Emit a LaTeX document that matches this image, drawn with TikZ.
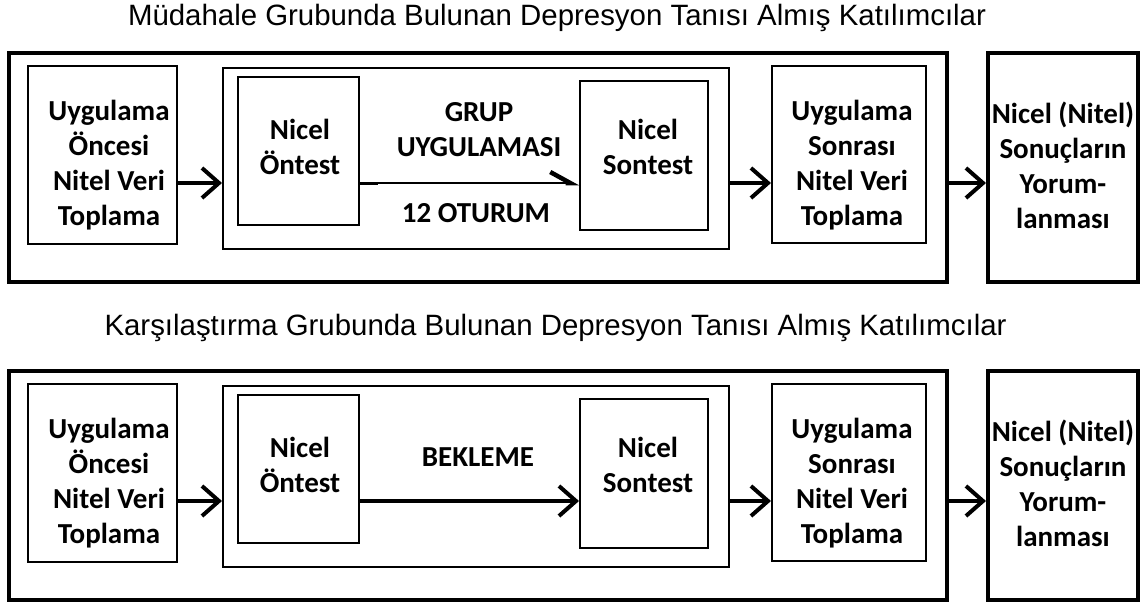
\documentclass[tikz,border=0pt]{standalone}
\usepackage{fontspec}
\setmainfont{Carlito}
\newfontfamily\titlefont{Liberation Sans}
\usetikzlibrary{arrows.meta}
\newcommand\commonparts{%
  \node[thickbox, minimum width=938pt, minimum height=229pt] (outer) at (478,167.5) {};
  \node[thickbox, minimum width=150pt, minimum height=229pt] (res) at (1063,167.5) {};
  \node[thinbox, minimum width=149pt, minimum height=178pt] (pre) at (102.5,155) {};
  \node[thinbox, minimum width=506pt, minimum height=181pt] (mid) at (476,158.5) {};
  \node[thinbox, minimum width=121pt, minimum height=148pt] (on) at (298.5,151) {};
  \node[thinbox, minimum width=128pt, minimum height=149pt] (son) at (644,155.5) {};
  \node[thinbox, minimum width=154pt, minimum height=177pt] (post) at (849,154.5) {};
  \coordinate (ay) at (0,183);
  \node[boxtext] (pretext) at (109,165) {Uygulama\\Öncesi\\Nitel Veri\\Toplama};
  \node[boxtext] (ontext) at (300,147) {Nicel\\Öntest};
  \node[boxtext] (sontext) at (648,147) {Nicel\\Sontest};
  \node[boxtext] (posttext) at (852,165) {Uygulama\\Sonrası\\Nitel Veri\\Toplama};
  \node[boxtext] (restext) at (1063,165) {Nicel (Nitel)\\Sonuçların\\Yorum-\\lanması};
  \draw[arr] (pre.east |- ay) -- (mid.west |- ay);
  \draw[arr] (mid.east |- ay) -- (post.west |- ay);
  \draw[arr] (outer.east |- ay) -- (res.west |- ay);
}
\begin{document}
\begin{tikzpicture}[x=1pt,y=-1pt,
 thickbox/.style={draw, line width=4pt, inner sep=0pt},
 thinbox/.style={draw, line width=2pt, inner sep=0pt},
 boxtext/.style={font=\bfseries\fontsize{29}{35}\selectfont, align=center, inner sep=0pt},
 titletext/.style={font=\titlefont\fontsize{29.4}{32}\selectfont, inner sep=0pt},
 arr/.style={line width=4pt, -{Straight Barb[length=17pt,width=30pt]}},
 thinarr/.style={line width=1.5pt, -{Straight Barb[harpoon,length=20pt,width=22pt,line width=4.5pt]}}
]
\useasboundingbox (0,0) rectangle (1143,603);
\node[titletext] (t-title) at (557,18) {Müdahale Grubunda Bulunan Depresyon Tanısı Almış Katılımcılar};
\node[titletext] (b-title) at (555.5,328) {Karşılaştırma Grubunda Bulunan Depresyon Tanısı Almış Katılımcılar};
\begin{scope}[name prefix=t-]
  \commonparts
  \node[boxtext] (grup) at (479,129.5) {GRUP\\UYGULAMASI};
  \node[boxtext] (oturum) at (476,213) {12 OTURUM};
  \draw[thinarr] (on.east |- ay) -- (son.west |- ay);
  \coordinate (stub) at (378,183);
  \draw[line width=3pt] (on.east |- ay) -- (stub);
\end{scope}
\begin{scope}[yshift=-318pt, name prefix=b-]
  \commonparts
  \node[boxtext] (bekleme) at (478,139) {BEKLEME};
  \draw[arr] (on.east |- ay) -- (son.west |- ay);
\end{scope}
\end{tikzpicture}
\end{document}
